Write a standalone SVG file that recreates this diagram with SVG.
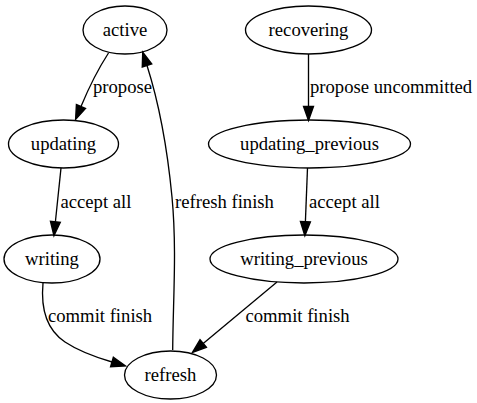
<svg xmlns="http://www.w3.org/2000/svg" width="477" height="403" viewBox="0 0 477 403" font-family="'Liberation Serif', 'DejaVu Serif', serif">
<style>
  .node ellipse { fill: none; stroke: #000; stroke-width: 1.33; }
  text { font-family: 'Liberation Serif', 'DejaVu Serif', serif; font-size: 18.67px; fill: #000; }
  .node text { text-anchor: middle; }
  .edge path { fill: none; stroke: #000; stroke-width: 1.33; marker-end: url(#arrow); }
</style>
<defs>
  <marker id="arrow" markerUnits="userSpaceOnUse" markerWidth="14" markerHeight="10" viewBox="0 0 13.3 9.4" refX="0" refY="4.7" orient="auto" overflow="visible">
    <path d="M0,0 L13.3,4.7 L0,9.4 Z" fill="#000" stroke="#000" stroke-width="1.33"/>
  </marker>
</defs>
<rect width="477" height="403" fill="#fff"/>
<g id="edges">
  <g class="edge"><path d="M108.5,53 C102,63 92,80 81,106.5"/><text x="93" y="93">propose</text></g>
  <g class="edge"><path d="M308.5,54 L308.5,106.5"/><text x="310" y="93">propose uncommitted</text></g>
  <g class="edge"><path d="M61,168 L55.4,221.8"/><text x="60.5" y="207.5">accept all</text></g>
  <g class="edge"><path d="M307.5,168 L305.4,221.7"/><text x="309" y="207.5">accept all</text></g>
  <g class="edge"><path d="M43,283 C41,305 44,328 65,342 C80,352 95,357 112,362"/><text x="48" y="322">commit finish</text></g>
  <g class="edge"><path d="M277,282 L203.2,343.5"/><text x="245.5" y="322">commit finish</text></g>
  <g class="edge"><path d="M172.7,350 C173,300 177,250 172,197 C167,145 158,100 147,65.5"/><text x="175" y="207.5">refresh finish</text></g>
</g>
<g id="active" class="node"><ellipse cx="125" cy="30" rx="42" ry="24"/><text x="125" y="35.6">active</text></g>
<g id="recovering" class="node"><ellipse cx="308.5" cy="30" rx="63" ry="24"/><text x="308.5" y="35.6">recovering</text></g>
<g id="updating" class="node"><ellipse cx="63.5" cy="144" rx="55" ry="24"/><text x="63.5" y="149.6">updating</text></g>
<g id="updating_previous" class="node"><ellipse cx="309.5" cy="144" rx="101" ry="24"/><text x="309.5" y="149.6">updating_previous</text></g>
<g id="writing" class="node"><ellipse cx="52" cy="259" rx="48" ry="24"/><text x="52" y="264.6">writing</text></g>
<g id="writing_previous" class="node"><ellipse cx="304" cy="259" rx="94" ry="24"/><text x="304" y="264.6">writing_previous</text></g>
<g id="refresh" class="node"><ellipse cx="170.5" cy="375" rx="46" ry="24"/><text x="170.5" y="380.6">refresh</text></g>
</svg>
